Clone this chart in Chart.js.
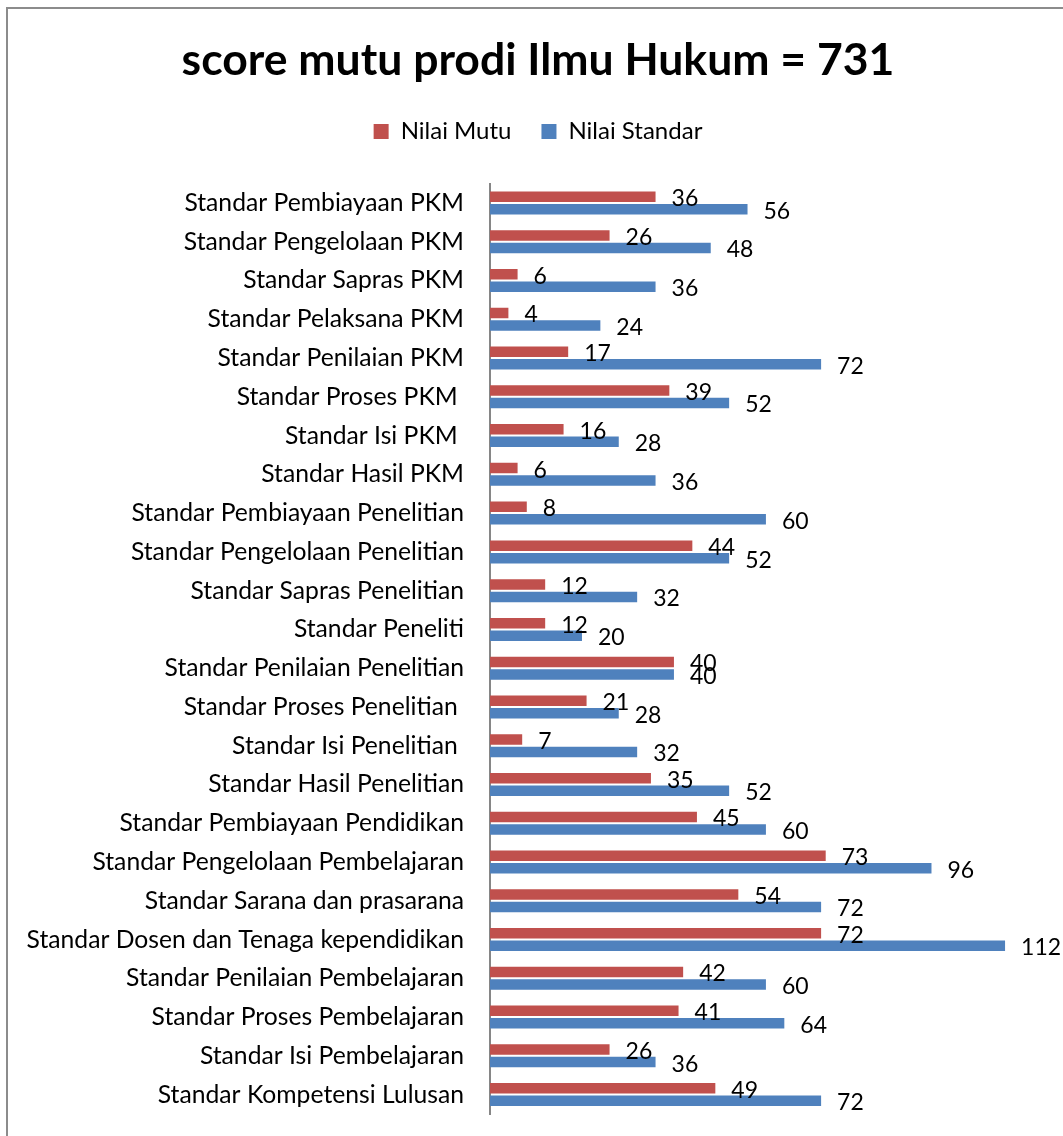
<!DOCTYPE html>
<html>
<head>
<meta charset="utf-8">
<script src="https://cdn.jsdelivr.net/npm/chart.js@4.4.1/dist/chart.umd.min.js"></script>
<style>
  html, body { margin: 0; padding: 0; background: #fff; overflow: hidden; }
  #frame { position: absolute; left: 6px; top: 7px; width: 1100px; height: 1200px; border: 2px solid #8c8c8c; box-sizing: border-box; }
  #wrap { position: absolute; left: 0; top: 0; width: 1063px; height: 1136px; }
</style>
</head>
<body>
<div id="frame"></div>
<div id="wrap"><canvas id="chart" width="1063" height="1136"></canvas></div>
<script>
const categories = [
  "Standar Pembiayaan PKM",
  "Standar Pengelolaan PKM",
  "Standar Sapras PKM",
  "Standar Pelaksana PKM",
  "Standar Penilaian PKM",
  "Standar Proses PKM ",
  "Standar Isi PKM ",
  "Standar Hasil PKM",
  "Standar Pembiayaan Penelitian",
  "Standar Pengelolaan Penelitian",
  "Standar Sapras Penelitian",
  "Standar Peneliti",
  "Standar Penilaian Penelitian",
  "Standar Proses Penelitian ",
  "Standar Isi Penelitian ",
  "Standar Hasil Penelitian",
  "Standar Pembiayaan Pendidikan",
  "Standar Pengelolaan Pembelajaran",
  "Standar Sarana dan prasarana",
  "Standar Dosen dan Tenaga kependidikan",
  "Standar Penilaian Pembelajaran",
  "Standar Proses Pembelajaran",
  "Standar Isi Pembelajaran",
  "Standar Kompetensi Lulusan"
];
const nilaiMutu = [36, 26, 6, 4, 17, 39, 16, 6, 8, 44, 12, 12, 40, 21, 7, 35, 45, 73, 54, 72, 42, 41, 26, 49];
const nilaiStandar = [56, 48, 36, 24, 72, 52, 28, 36, 60, 52, 32, 20, 40, 28, 32, 52, 60, 96, 72, 112, 60, 64, 36, 72];

const FONT = "Lato, 'Open Sans', sans-serif";
const LEFT_PAD = 13;
const AXIS_X = 490;

// value labels drawn just past the end of each bar
const valueLabels = {
  id: "valueLabels",
  afterDatasetsDraw(chart) {
    const ctx = chart.ctx;
    ctx.save();
    ctx.font = "23px " + FONT;
    ctx.fillStyle = "#000";
    ctx.textAlign = "left";
    ctx.textBaseline = "middle";
    chart.data.datasets.forEach((ds, i) => {
      chart.getDatasetMeta(i).data.forEach((bar, j) => {
        ctx.fillText(String(ds.data[j]), bar.x + 16, bar.y + 2);
      });
    });
    ctx.restore();
  }
};

new Chart(document.getElementById("chart"), {
  type: "bar",
  data: {
    labels: categories,
    datasets: [
      { label: "Nilai Mutu", data: nilaiMutu, backgroundColor: "#C0504D" },
      { label: "Nilai Standar", data: nilaiStandar, backgroundColor: "#4F81BD" }
    ]
  },
  options: {
    indexAxis: "y",
    responsive: false,
    animation: false,
    categoryPercentage: 0.645,
    barPercentage: 0.84,
    layout: { padding: { left: LEFT_PAD, right: 0, top: 0, bottom: 22 } },
    scales: {
      x: { display: false, min: 0, max: 124.6 },
      y: {
        afterFit(scale) { scale.width = AXIS_X - LEFT_PAD; },
        // tick marks are not drawn; tickLength just keeps the labels off the axis
        grid: { display: false, drawTicks: true, tickLength: 26 },
        border: { display: true, color: "#868686", width: 2 },
        ticks: { color: "#000", font: { family: FONT, size: 24.7 }, padding: 0 }
      }
    },
    plugins: {
      title: {
        display: true,
        text: "score mutu prodi Ilmu Hukum = 731",
        color: "#000",
        font: { family: FONT, size: 44.5, weight: "bold" },
        padding: { top: 34, bottom: 2 }
      },
      // empty spacer between legend and plot
      subtitle: {
        display: true,
        text: "",
        weight: 500,
        font: { size: 1 },
        padding: { top: 0, bottom: 29 }
      },
      legend: {
        position: "top",
        labels: {
          color: "#000",
          font: { family: FONT, size: 24 },
          boxWidth: 15,
          boxHeight: 15,
          padding: 30
        }
      },
      tooltip: { enabled: false }
    }
  },
  plugins: [valueLabels]
});
</script>
</body>
</html>
